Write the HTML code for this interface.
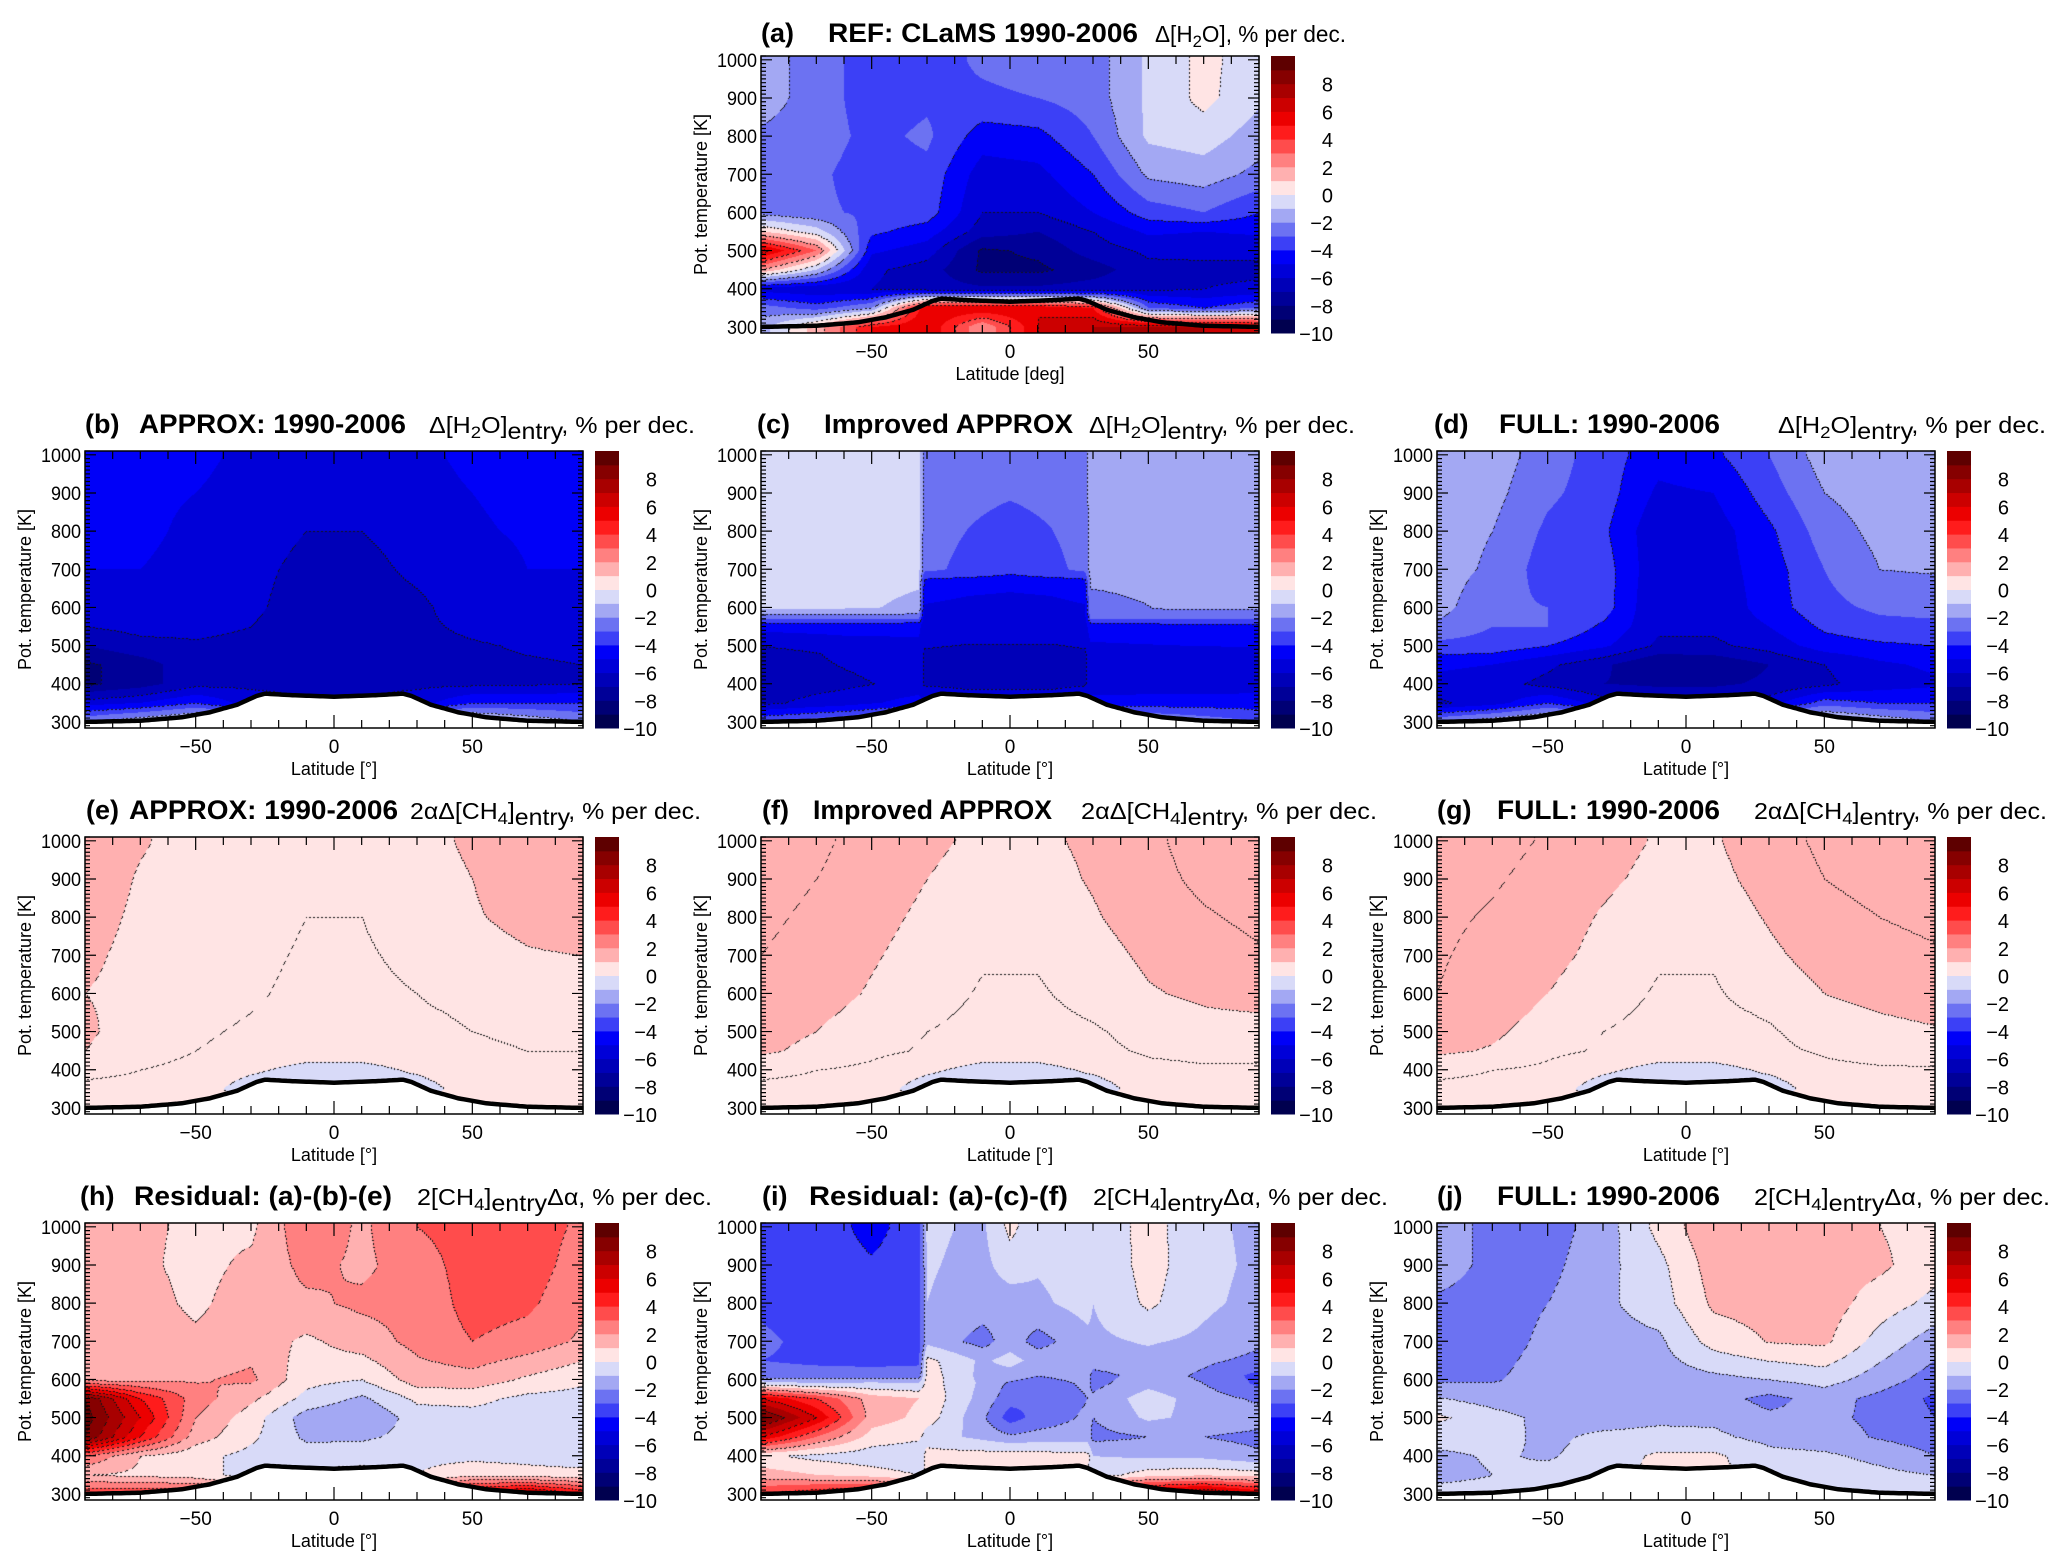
<!DOCTYPE html>
<html><head><meta charset="utf-8">
<style>
html,body{margin:0;padding:0;background:#fff;}
#wrap{position:relative;width:2067px;height:1567px;overflow:hidden;background:#fff;}
canvas{position:absolute;}
#ov{position:absolute;left:0;top:0;}
text{font-family:"Liberation Sans",sans-serif;fill:#000;}
.tb{font-weight:bold;font-size:27px;}
.tf{font-size:23px;}
</style></head>
<body>
<div id="wrap">
<svg id="ov" width="2067" height="1567">
<g id="fields"></g>
<g id="axes"></g>
<g>
<text class="tb" x="761" y="42">(a)</text>
<text class="tb" x="828" y="42" textLength="310" lengthAdjust="spacingAndGlyphs">REF: CLaMS 1990-2006</text>
<text class="tf" x="1155" y="42" textLength="191" lengthAdjust="spacingAndGlyphs">Δ[H<tspan font-size="17" dy="5">2</tspan><tspan dy="-5">O], % per dec.</tspan></text>

<text class="tb" x="85" y="433">(b)</text>
<text class="tb" x="139" y="433" textLength="267" lengthAdjust="spacingAndGlyphs">APPROX: 1990-2006</text>
<text class="tf" x="429" y="433" textLength="266" lengthAdjust="spacingAndGlyphs">Δ[H<tspan font-size="17" dy="5">2</tspan><tspan dy="-5">O]</tspan><tspan dy="6">entry</tspan><tspan dy="-6">, % per dec.</tspan></text>

<text class="tb" x="757" y="433">(c)</text>
<text class="tb" x="824" y="433" textLength="249" lengthAdjust="spacingAndGlyphs">Improved APPROX</text>
<text class="tf" x="1089" y="433" textLength="266" lengthAdjust="spacingAndGlyphs">Δ[H<tspan font-size="17" dy="5">2</tspan><tspan dy="-5">O]</tspan><tspan dy="6">entry</tspan><tspan dy="-6">, % per dec.</tspan></text>

<text class="tb" x="1434" y="433">(d)</text>
<text class="tb" x="1499" y="433" textLength="221" lengthAdjust="spacingAndGlyphs">FULL: 1990-2006</text>
<text class="tf" x="1778" y="433" textLength="268" lengthAdjust="spacingAndGlyphs">Δ[H<tspan font-size="17" dy="5">2</tspan><tspan dy="-5">O]</tspan><tspan dy="6">entry</tspan><tspan dy="-6">, % per dec.</tspan></text>

<text class="tb" x="86" y="819">(e)</text>
<text class="tb" x="129" y="819" textLength="269" lengthAdjust="spacingAndGlyphs">APPROX: 1990-2006</text>
<text class="tf" x="410" y="819" textLength="291" lengthAdjust="spacingAndGlyphs">2αΔ[CH<tspan font-size="17" dy="5">4</tspan><tspan dy="-5">]</tspan><tspan dy="6">entry</tspan><tspan dy="-6">, % per dec.</tspan></text>

<text class="tb" x="762" y="819">(f)</text>
<text class="tb" x="813" y="819" textLength="239" lengthAdjust="spacingAndGlyphs">Improved APPROX</text>
<text class="tf" x="1081" y="819" textLength="296" lengthAdjust="spacingAndGlyphs">2αΔ[CH<tspan font-size="17" dy="5">4</tspan><tspan dy="-5">]</tspan><tspan dy="6">entry</tspan><tspan dy="-6">, % per dec.</tspan></text>

<text class="tb" x="1437" y="819">(g)</text>
<text class="tb" x="1497" y="819" textLength="223" lengthAdjust="spacingAndGlyphs">FULL: 1990-2006</text>
<text class="tf" x="1754" y="819" textLength="293" lengthAdjust="spacingAndGlyphs">2αΔ[CH<tspan font-size="17" dy="5">4</tspan><tspan dy="-5">]</tspan><tspan dy="6">entry</tspan><tspan dy="-6">, % per dec.</tspan></text>

<text class="tb" x="80" y="1205">(h)</text>
<text class="tb" x="134" y="1205" textLength="258" lengthAdjust="spacingAndGlyphs">Residual: (a)-(b)-(e)</text>
<text class="tf" x="417" y="1205" textLength="295" lengthAdjust="spacingAndGlyphs">2[CH<tspan font-size="17" dy="5">4</tspan><tspan dy="-5">]</tspan><tspan dy="6">entry</tspan><tspan dy="-6">Δα, % per dec.</tspan></text>

<text class="tb" x="762" y="1205">(i)</text>
<text class="tb" x="809" y="1205" textLength="259" lengthAdjust="spacingAndGlyphs">Residual: (a)-(c)-(f)</text>
<text class="tf" x="1093" y="1205" textLength="295" lengthAdjust="spacingAndGlyphs">2[CH<tspan font-size="17" dy="5">4</tspan><tspan dy="-5">]</tspan><tspan dy="6">entry</tspan><tspan dy="-6">Δα, % per dec.</tspan></text>

<text class="tb" x="1437" y="1205">(j)</text>
<text class="tb" x="1497" y="1205" textLength="223" lengthAdjust="spacingAndGlyphs">FULL: 1990-2006</text>
<text class="tf" x="1754" y="1205" textLength="296" lengthAdjust="spacingAndGlyphs">2[CH<tspan font-size="17" dy="5">4</tspan><tspan dy="-5">]</tspan><tspan dy="6">entry</tspan><tspan dy="-6">Δα, % per dec.</tspan></text>
</g>
</svg>
</div>
<script>
// ---- chart data ----
const latsG = [-90,-70,-50,-30,-10,10,30,50,70,90];
const levsG = [1000,900,800,700,600,550,500,450,400,350,300];
const valsA = [
 [-1.5,-2.5,-3.5,-3.5,-2.8,-2.5,-2.5,-0.8,0.3,-0.6],
 [-1.5,-2.5,-3.5,-3.2,-3.2,-3,-2.5,-0.8,0.3,-0.8],
 [-2.2,-2.5,-3.3,-2.8,-4.5,-4.3,-3,-0.8,-0.5,-1.5],
 [-2.5,-2.8,-3.5,-3.3,-5.5,-5.3,-4,-1.8,-1.5,-2.3],
 [-2.3,-2.8,-3.2,-3.5,-6,-6,-5,-3.5,-3,-4],
 [1,-0.5,-3.8,-4.5,-6.5,-7,-6,-4.8,-5,-4.8],
 [6.5,3,-4.8,-5.5,-8.2,-7.8,-6.5,-5.8,-5.8,-5.8],
 [2,-1,-5.8,-6.5,-8.2,-8.2,-7.5,-6.3,-6.2,-6.2],
 [-5.5,-5.8,-6,-6.5,-6.8,-6.8,-6.5,-6.2,-6,-5.8],
 [-2.5,-3.5,-2,6,6,6,5,-3,-4,-3],
 [-1.5,1.5,5,6,2,6,7,7,7,6]];
const valsB = [
 [-4.7,-4.7,-4.8,-5.2,-5.3,-5.3,-5.2,-4.8,-4.7,-4.7],
 [-4.7,-4.8,-5,-5.3,-5.5,-5.5,-5.3,-5,-4.8,-4.7],
 [-4.8,-4.8,-5.2,-5.5,-6,-6,-5.6,-5.1,-4.9,-4.8],
 [-5,-5,-5.3,-5.7,-6.3,-6.3,-5.8,-5.4,-5,-5],
 [-5.2,-5.2,-5.5,-5.8,-6.5,-6.5,-6.2,-5.5,-5.3,-5.2],
 [-6,-5.7,-5.8,-6,-6.6,-6.6,-6.2,-5.8,-5.6,-5.5],
 [-7,-6.3,-6.1,-6.2,-6.6,-6.6,-6.3,-6.1,-5.9,-5.8],
 [-8.2,-7.5,-6.3,-6.3,-6.5,-6.5,-6.3,-6.2,-6.1,-6],
 [-8.2,-7.5,-6.3,-6.2,-6.2,-6.2,-6.2,-6.2,-6.1,-6],
 [-5.5,-5,-4,-5.5,-6,-6,-5.5,-4,-4,-4],
 [-2,-1,0,0,0,0,0,0,-1,-2]];
const latsC = [-90,-60,-33,-31,-15,0,15,27,29,60,90];
const levsC = [1000,880,700,690,670,600,590,570,555,480,400,350,300];
const valsC = [
 [-0.7,-0.7,-0.7,-2.5,-2.6,-2.7,-2.6,-2.5,-1.5,-1.5,-1.5],
 [-0.7,-0.7,-0.7,-2.5,-2.8,-3.0,-2.8,-2.5,-1.5,-1.5,-1.5],
 [-0.7,-0.7,-0.7,-2.7,-3.3,-3.8,-3.3,-2.7,-1.5,-1.5,-1.6],
 [-0.7,-0.7,-0.8,-3.2,-3.4,-3.9,-3.4,-3.2,-1.6,-1.6,-1.6],
 [-0.7,-0.7,-0.9,-4.3,-4.6,-4.7,-4.6,-4.3,-1.8,-1.6,-1.6],
 [-0.8,-0.8,-1.2,-5.1,-5.3,-5.4,-5.3,-5.1,-2.5,-1.8,-1.8],
 [-1.5,-1.5,-1.6,-5.2,-5.4,-5.4,-5.4,-5.2,-2.5,-2.2,-2.2],
 [-3,-3,-3,-5.4,-5.5,-5.5,-5.5,-5.4,-3,-3,-3],
 [-4.5,-4.5,-4.6,-5.5,-5.6,-5.6,-5.6,-5.5,-4.4,-4.2,-4.2],
 [-6.5,-5.8,-5.5,-6.1,-6.2,-6.2,-6.2,-6.1,-5.4,-5.3,-5.2],
 [-6.5,-6.2,-5.7,-6.1,-6.2,-6.2,-6.2,-6.1,-5.7,-5.6,-5.5],
 [-6.2,-5.5,-4.5,-5,-5.5,-5.5,-5.5,-5,-4.5,-4.5,-4.5],
 [-3,-2,-1,0,0,0,0,0,-1,-2,-3]];
const valsD = [
 [-1.5,-1.5,-2.5,-3.5,-4.6,-4.2,-3,-1.5,-1.5,-1.5],
 [-1.5,-1.7,-2.8,-3.5,-5.2,-5,-3.5,-2,-1.5,-1.5],
 [-1.5,-2,-3.2,-3.8,-5.8,-5.5,-4.2,-2.5,-1.7,-1.6],
 [-1.5,-2.2,-3.5,-3.5,-5.8,-5.5,-4.5,-3,-2,-1.9],
 [-1.6,-2.8,-3,-3.5,-6,-5.8,-4.5,-3.3,-2.8,-2.7],
 [-2.2,-3.0,-3,-4.2,-5.8,-5.8,-5,-3.8,-3.3,-3.2],
 [-3.3,-3.4,-4,-4.8,-6.2,-6.2,-5.6,-4.5,-4.2,-4.0],
 [-4.8,-5,-5.8,-6.8,-8,-7.8,-7,-6,-5.2,-4.8],
 [-5.3,-5.6,-6.3,-7,-7.2,-7.2,-6.8,-6.2,-5.5,-5.2],
 [-6.2,-5.5,-4,-5.5,-6,-6,-5.5,-3.5,-4,-4],
 [-2,-1,0,0,0,0,0,0,-1,-2]];
const valsE = [
 [1.3,1.05,0.8,0.7,0.6,0.6,0.8,1.1,1.3,1.4],
 [1.3,0.95,0.8,0.7,0.6,0.6,0.75,1.0,1.3,1.4],
 [1.2,0.9,0.75,0.65,0.5,0.5,0.7,0.95,1.15,1.3],
 [1.1,0.85,0.7,0.6,0.45,0.45,0.6,0.8,0.95,1.0],
 [1.0,0.85,0.65,0.55,0.4,0.4,0.5,0.65,0.8,0.85],
 [1.05,0.8,0.6,0.5,0.4,0.4,0.45,0.55,0.7,0.75],
 [1.1,0.7,0.55,0.45,0.35,0.35,0.4,0.5,0.55,0.55],
 [1.0,0.65,0.5,0.4,0.3,0.3,0.35,0.45,0.5,0.5],
 [0.6,0.5,0.4,0.1,-0.2,-0.2,0.1,0.4,0.45,0.45],
 [0.4,0.4,0.3,-0.3,-0.5,-0.5,-0.3,0.3,0.4,0.4],
 [0.3,0.3,0.3,0.2,0.1,0.1,0.2,0.3,0.3,0.3]];
const valsF = [
 [1.8,1.6,1.3,1.1,0.9,0.9,1.1,1.4,1.7,1.8],
 [1.7,1.5,1.25,1.0,0.8,0.8,1.05,1.35,1.6,1.7],
 [1.6,1.4,1.15,0.9,0.7,0.7,0.95,1.25,1.45,1.6],
 [1.5,1.3,1.05,0.8,0.55,0.55,0.8,1.1,1.3,1.45],
 [1.5,1.2,0.95,0.7,0.45,0.45,0.65,0.95,1.1,1.2],
 [1.3,1.1,0.85,0.6,0.4,0.4,0.55,0.8,0.95,1.0],
 [1.2,1.0,0.7,0.5,0.35,0.35,0.45,0.65,0.75,0.8],
 [1.1,0.85,0.6,0.45,0.3,0.3,0.4,0.55,0.6,0.6],
 [0.6,0.5,0.4,0.1,-0.2,-0.2,0.1,0.4,0.45,0.45],
 [0.4,0.4,0.3,-0.3,-0.5,-0.5,-0.3,0.3,0.4,0.4],
 [0.3,0.3,0.3,0.2,0.1,0.1,0.2,0.3,0.3,0.3]];
const valsG = [
 [1.8,1.65,1.45,1.2,0.95,0.95,1.3,1.6,1.7,1.8],
 [1.7,1.55,1.35,1.1,0.85,0.85,1.2,1.5,1.65,1.75],
 [1.6,1.45,1.25,0.95,0.7,0.7,1.05,1.35,1.5,1.6],
 [1.55,1.35,1.15,0.85,0.55,0.55,0.9,1.2,1.35,1.45],
 [1.5,1.25,1.0,0.7,0.45,0.45,0.7,1.0,1.15,1.3],
 [1.3,1.2,0.9,0.6,0.4,0.4,0.55,0.85,1.0,1.1],
 [1.2,1.1,0.75,0.5,0.35,0.35,0.45,0.7,0.85,0.95],
 [1.1,0.95,0.6,0.45,0.3,0.3,0.4,0.55,0.65,0.7],
 [0.6,0.5,0.4,0.1,-0.2,-0.2,0.1,0.4,0.45,0.45],
 [0.4,0.4,0.3,-0.3,-0.5,-0.5,-0.3,0.3,0.4,0.4],
 [0.3,0.3,0.3,0.2,0.1,0.1,0.2,0.3,0.3,0.3]];
const valsH = [
 [1.5,1.2,0.8,0.8,2.8,1.8,3.0,3.5,3.5,2.8],
 [1.5,1.2,0.7,1.2,2.3,1.8,2.5,3.5,3.5,2.5],
 [1.6,1.4,0.8,1.5,1.8,2.2,2.3,3.4,3.2,2.2],
 [1.8,1.5,1.2,1.6,0.8,1.5,2.3,3.0,2.6,1.8],
 [1.6,1.8,1.9,2.2,0.3,0.0,1.5,1.6,0.8,0.2],
 [9,5,2.5,1.2,-0.3,-1.2,0.2,0.3,-0.3,-0.4],
 [9.5,6,2,0.5,-1.5,-2.0,-0.5,-0.4,-0.5,-0.5],
 [9,5,1.5,0.2,-1.2,-1.2,-0.6,-0.6,-0.5,-0.6],
 [3,1,0.3,-0.3,-0.5,-0.3,-0.3,-0.3,-0.4,-0.8],
 [1,0.8,0.5,-0.5,0.3,0.3,0,0.8,0.5,0.5],
 [4,4,4,3,2,2,3,6,7,5]];
const latsI = [-90,-70,-50,-33,-30,-10,0,10,28,30,50,70,90];
const levsI = [1000,900,800,700,650,610,590,550,500,450,400,350,300];
const valsI = [
 [-3.3,-3.5,-4.3,-3.5,-0.8,-1.2,0.3,-0.8,-0.6,-0.8,0.4,-0.8,-1.2],
 [-3.3,-3.5,-3.9,-3.5,-0.9,-1.3,-0.5,-0.9,-0.5,-0.9,0.4,-0.7,-1.2],
 [-3.2,-3.5,-3.6,-3.5,-1.0,-1.5,-1.5,-1.2,-0.6,-1.0,0.2,-0.8,-1.3],
 [-2.8,-3.3,-3.5,-3.4,-1.3,-2.4,-1.5,-2.4,-1.3,-1.2,-0.9,-1.2,-1.8],
 [-3.0,-3.2,-3.3,-3.2,0.3,-1.2,-0.6,-1.4,-1.2,-1.3,-1.3,-1.8,-2.3],
 [-2.6,-2.6,-2.6,-2.6,0.5,-1.3,-1.5,-2.0,-1.6,-2.5,-1.5,-2.2,-3.3],
 [-0.5,-1.0,-0.8,-1.0,0.5,-1.2,-2.2,-2.5,-1.8,-2.3,-1.3,-2.0,-3.2],
 [6,4,1.5,1.0,0.7,-1.4,-2.6,-3.0,-2.0,-1.8,-0.5,-1.5,-2.2],
 [9.5,6,1.5,0.8,0.5,-1.8,-3.5,-2.6,-1.8,-2.0,-0.8,-1.3,-1.5],
 [6,3,0.6,0.2,-0.5,-1.3,-1.8,-1.6,-1.5,-2.3,-2.0,-2.0,-2.3],
 [0.2,-0.3,-0.6,-0.8,0.4,0.5,0.6,0.5,0.3,-1.0,-1.2,-1.3,-1.8],
 [1.5,1.0,0.5,0,0,0,0,0,0,-0.5,0.5,0.8,0.5],
 [4,5,6,4,3,2,2,2,3,5,7,8,6]];
const valsJ = [
 [-1.5,-2.3,-2.5,-1.5,0.3,1.8,1.5,1.5,1.0,0.5],
 [-1.5,-2.3,-2.3,-1.3,-0.3,1.5,1.5,1.5,1.2,0.4],
 [-2.2,-2.4,-2.0,-1.2,-0.5,1.2,1.4,1.5,0.5,-0.3],
 [-2.3,-2.4,-1.8,-1.4,-1.2,0.4,1.05,1.2,-0.4,-1.5],
 [-2.2,-2.1,-1.6,-1.5,-1.5,-1.3,-1.0,-0.6,-1.5,-2.5],
 [-0.9,-1.4,-1.6,-1.5,-1.5,-1.6,-2.3,-1.6,-2.3,-3.2],
 [0.2,-0.6,-1.3,-1.4,-1.2,-1.2,-1.8,-1.8,-2.2,-3.0],
 [-0.6,-0.7,-1.2,-0.8,-0.7,-0.8,-1.3,-1.6,-2.1,-2.5],
 [-1.2,-0.9,-1.1,-0.6,0.2,0.2,-0.7,-0.8,-1.3,-2.0],
 [-1.3,-1.0,-0.7,-0.4,0.3,0.3,-0.4,-0.5,-0.7,-1.0],
 [-0.6,-0.6,-0.5,-0.3,0,0,-0.3,-0.5,-0.6,-0.7]];
const tropLats = [-90,-70,-55,-45,-35,-28,-25,-15,0,15,25,28,35,45,55,70,90];
const tropTheta = [300,303,312,325,345,368,374,370,366,370,374,368,345,325,312,303,300];
const xTickLabels = [-50,0,50];
const yTickLabels = [300,400,500,600,700,800,900,1000];
const cbTickLabels = [8,6,4,2,0,-2,-4,-6,-8,-10];
const cbLevels = [-10,-9,-8,-7,-6,-5,-4,-3,-2,-1,0,1,2,3,4,5,6,7,8,9];
const cbColors = ['#00004f','#000075','#000098','#0000b8','#0000d8','#0000f8','#3c40f6','#6c72f2','#a3a8f3','#d8daf8',
                  '#ffe4e4','#ffb0b0','#ff8080','#ff4c4c','#ff1c1c','#ec0000','#cc0000','#a80000','#860000','#5e0000'];

// ---- layout ----
const PW = 498, PH = 277, TH_TOP = 1010, TH_BOT = 284;
const panels = [
 {id:'a', x:761, y:56,   lats:latsG, levs:levsG, vals:valsA, mask:false, step:2, xl:'Latitude [deg]'},
 {id:'b', x:85,  y:451,  lats:latsG, levs:levsG, vals:valsB, mask:true, step:2, xl:'Latitude [°]'},
 {id:'c', x:761, y:451,  lats:latsC, levs:levsC, vals:valsC, mask:true, step:2, xl:'Latitude [°]'},
 {id:'d', x:1437,y:451,  lats:latsG, levs:levsG, vals:valsD, mask:true, step:2, xl:'Latitude [°]'},
 {id:'e', x:85,  y:837,  lats:latsG, levs:levsG, vals:valsE, mask:true, step:0.5, xl:'Latitude [°]'},
 {id:'f', x:761, y:837,  lats:latsG, levs:levsG, vals:valsF, mask:true, step:0.5, xl:'Latitude [°]'},
 {id:'g', x:1437,y:837,  lats:latsG, levs:levsG, vals:valsG, mask:true, step:0.5, xl:'Latitude [°]'},
 {id:'h', x:85,  y:1223, lats:latsG, levs:levsG, vals:valsH, mask:true, step:1, xl:'Latitude [°]'},
 {id:'i', x:761, y:1223, lats:latsI, levs:levsI, vals:valsI, mask:true, step:2, xl:'Latitude [°]'},
 {id:'j', x:1437,y:1223, lats:latsG, levs:levsG, vals:valsJ, mask:true, step:1, xl:'Latitude [°]'}];

function xOf(p, lat){ return p.x + (lat + 90) / 180 * PW; }
function yOf(p, th){ return p.y + (TH_TOP - th) / (TH_TOP - TH_BOT) * PH; }
function seg(arr, v){
  if (v <= arr[0]) return [0, 0];
  for (let i = 0; i < arr.length - 1; i++) if (v <= arr[i+1]) return [i, (v - arr[i]) / (arr[i+1] - arr[i] || 1)];
  return [arr.length - 2, 1];
}
function segDesc(arr, v){
  if (v >= arr[0]) return [0, 0];
  for (let i = 0; i < arr.length - 1; i++) if (v >= arr[i+1]) return [i, (arr[i] - v) / (arr[i] - arr[i+1] || 1)];
  return [arr.length - 2, 1];
}
function field(p, lat, th){
  const [i, fx] = seg(p.lats, lat);
  const [j, fy] = segDesc(p.levs, th);
  const v = p.vals;
  const a = v[j][i] * (1 - fx) + v[j][i+1] * fx;
  const b = v[j+1][i] * (1 - fx) + v[j+1][i+1] * fx;
  return a * (1 - fy) + b * fy;
}
function trop(lat){
  const [i, f] = seg(tropLats, lat);
  return tropTheta[i] * (1 - f) + tropTheta[i+1] * f;
}
function hex(c){ return [parseInt(c.substr(1,2),16), parseInt(c.substr(3,2),16), parseInt(c.substr(5,2),16)]; }
const rgb = cbColors.map(hex);

const wrap = document.getElementById('wrap');
const svg = document.getElementById('ov');
const NSU = svg.namespaceURI;
const axes = document.getElementById('axes');
function mk(tag, attrs, parent){
  const e = document.createElementNS(NSU, tag);
  for (const k in attrs) e.setAttribute(k, attrs[k]);
  (parent || axes).appendChild(e);
  return e;
}

panels.forEach(p => {
  const cv = document.createElement('canvas');
  cv.width = PW; cv.height = PH;
  cv.style.left = p.x + 'px'; cv.style.top = p.y + 'px';
  
  
  wrap.insertBefore(cv, svg);
  const ctx = cv.getContext('2d');
  const img = ctx.createImageData(PW, PH);
  const vals = new Float32Array(PW * PH);
  const msk = new Uint8Array(PW * PH);
  for (let py = 0; py < PH; py++) {
    const th = TH_TOP - (py + 0.5) / PH * (TH_TOP - TH_BOT);
    for (let px = 0; px < PW; px++) {
      const lat = -90 + (px + 0.5) / PW * 180;
      vals[py*PW+px] = field(p, lat, th);
      msk[py*PW+px] = (p.mask && th < trop(lat)) ? 1 : 0;
    }
  }
  for (let py = 0; py < PH; py++) for (let px = 0; px < PW; px++) {
    const k = py*PW+px, o = k*4;
    let c;
    if (msk[k]) c = [255,255,255];
    else {
      const v = vals[k];
      let bi = Math.floor(v) + 10; bi = Math.max(0, Math.min(19, bi));
      c = rgb[bi];
      const band = Math.floor(v / p.step);
      let edge = false;
      if (px > 0 && !msk[k-1] && Math.floor(vals[k-1] / p.step) !== band) edge = true;
      if (py > 0 && !msk[k-PW] && Math.floor(vals[k-PW] / p.step) !== band) edge = true;
      if (edge && ((px + py) >> 1) % 2 === 0) c = [20,20,20];
    }
    img.data[o] = c[0]; img.data[o+1] = c[1]; img.data[o+2] = c[2]; img.data[o+3] = 255;
  }
  ctx.putImageData(img, 0, 0);

  let d = '';
  for (let lat = -90; lat <= 90; lat += 1) d += (lat === -90 ? 'M' : 'L') + xOf(p, lat).toFixed(1) + ' ' + yOf(p, trop(lat)).toFixed(1);
  const tl = mk('path', {d: d, fill: 'none', stroke: '#000', 'stroke-width': 4.5});
  
  

  const fr = mk('rect', {x: p.x, y: p.y, width: PW, height: PH, fill: 'none', stroke: '#000', 'stroke-width': 1.5});
  
  

  let td = '';
  for (let lat = -90; lat <= 90; lat += 10) {
    const x = xOf(p, lat), L = (lat % 50 === 0) ? 13 : 8;
    td += `M${x} ${p.y+PH}v${-L}M${x} ${p.y}v${L}`;
  }
  for (let th = 290; th <= 1010; th += 10) {
    const y = yOf(p, th), L = (th % 100 === 0) ? 11 : 5;
    td += `M${p.x} ${y}h${L}M${p.x+PW} ${y}h${-L}`;
  }
  const tk = mk('path', {d: td, stroke: '#000', 'stroke-width': 1.2, fill: 'none'});
  
  

  xTickLabels.forEach(v => {
    const t = mk('text', {x: xOf(p, v), y: p.y + PH + 25, 'text-anchor': 'middle', 'font-size': 19});
    t.textContent = v < 0 ? '\u2212' + (-v) : String(v);
    
    
  });
  yTickLabels.forEach(v => {
    const t = mk('text', {x: p.x - 4, y: yOf(p, v) + 7, 'text-anchor': 'end', 'font-size': 19, textLength: v >= 1000 ? 40 : 30, lengthAdjust: 'spacingAndGlyphs'});
    t.textContent = String(v);
    
    
  });
  const xt = mk('text', {x: p.x + PW/2, y: p.y + PH + 47, 'text-anchor': 'middle', 'font-size': 18});
  xt.textContent = p.xl;
  
  
  const yt = mk('text', {x: 0, y: 0, 'text-anchor': 'middle', 'font-size': 18, transform: `translate(${p.x - 54},${p.y + PH/2}) rotate(-90)`});
  yt.textContent = 'Pot. temperature [K]';
  
  

  const cx = p.x + PW + 12, cw = 24, unit = PH / 20;
  cbLevels.forEach((lv, i) => {
    const r = mk('rect', {x: cx, y: p.y + (9 - lv) * unit, width: cw, height: unit + 0.5, fill: cbColors[i]});
    
    
  });
  cbTickLabels.forEach(v => {
    const t = mk('text', {x: cx + cw + 38, y: p.y + (10 - v) * unit + 8, 'text-anchor': 'end', 'font-size': 20});
    t.textContent = v < 0 ? '\u2212' + (-v) : String(v);
    
    
  });
});
</script>
</body></html>
